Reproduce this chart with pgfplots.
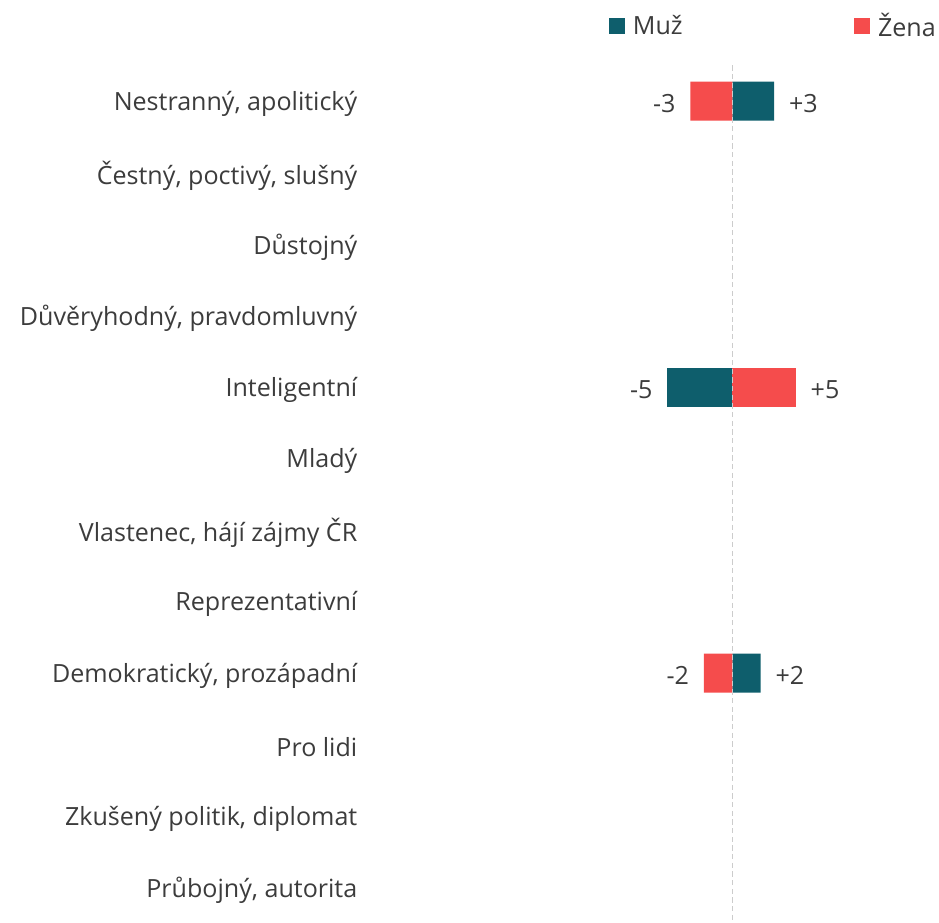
\documentclass[border=0pt]{standalone}
\usepackage{pgfplots}
\pgfplotsset{compat=1.18}
\usepackage{fontspec}
\setmainfont{Open Sans}
\definecolor{muz}{RGB}{14,94,108}
\definecolor{zena}{RGB}{245,76,76}
\definecolor{txt}{RGB}{60,60,60}
\newcommand{\lblfont}{\fontsize{18.8}{22}\selectfont}
\begin{document}
\begin{tikzpicture}
\useasboundingbox (0pt,0pt) rectangle (704.25pt,691.5pt);
\begin{axis}[
  at={(271.5pt,-1.1pt)}, anchor=south west,
  width=432.75pt, height=643.5pt, scale only axis,
  xmin=-27.4, xmax=15.3, ymin=-0.5, ymax=11.5, y dir=reverse,
  xbar, bar width=29.25pt, bar shift=0pt,
  axis line style={draw=none},
  xtick=\empty,
  ytick={0,...,11},
  yticklabels={Nestranný\hbox{,} apolitický, Čestný\hbox{,} poctivý\hbox{,} slušný, Důstojný, Důvěryhodný\hbox{,} pravdomluvný, Inteligentní, Mladý, Vlastenec\hbox{,} hájí zájmy ČR, Reprezentativní, Demokratický\hbox{,} prozápadní, Pro lidi, Zkušený politik\hbox{,} diplomat, Průbojný\hbox{,} autorita},
  major tick length=0pt,
  yticklabel style={font=\lblfont, text=txt, yshift=-2pt},
  nodes near coords, point meta=explicit symbolic,
  nodes near coords style={font=\lblfont, text=txt, inner xsep=11pt, yshift=-2pt},
  legend columns=2,
  legend style={draw=none, fill=none, inner sep=0pt, outer sep=0pt,
    at={(0.428,1.0635)}, anchor=north west,
    font=\lblfont, text=txt,
    /tikz/every even column/.append style={column sep=126.5pt}},
  legend image code/.code={\fill[#1] (0pt,-5.5pt) rectangle (12pt,6.5pt); \path (16pt,0pt);},
]
\addplot[fill=muz, draw=none, nodes near coords style={anchor=west}] table[meta=lab] {
x y lab
3.1 0 +3
2.1 8 +2
};
\addplot[fill=zena, draw=none, nodes near coords style={anchor=east}] table[meta=lab] {
x y lab
-3.1 0 -3
-2.1 8 -2
};
\addplot[fill=muz, draw=none, forget plot, nodes near coords style={anchor=east}] table[meta=lab] {
x y lab
-4.8 4 -5
};
\addplot[fill=zena, draw=none, forget plot, nodes near coords style={anchor=west}] table[meta=lab] {
x y lab
4.7 4 +5
};
\legend{Muž, Žena}
\draw[gray!40, line width=0.8pt, dash pattern=on 4pt off 2.5pt] (axis cs:0,-0.5) -- (axis cs:0,11.5);
\end{axis}
\end{tikzpicture}
\end{document}
